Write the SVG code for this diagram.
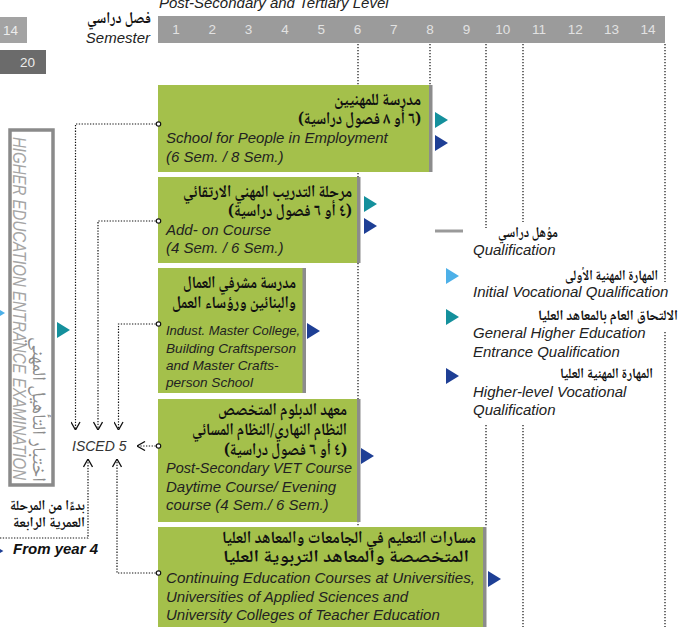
<svg xmlns="http://www.w3.org/2000/svg" xmlns:xlink="http://www.w3.org/1999/xlink" width="696" height="627" viewBox="0 0 696 627">
<style>
.en{font-family:"Liberation Sans",Arial,sans-serif;font-style:italic;font-size:15px;fill:#222}
.en14{font-size:13.6px}
.ar{font-family:"Noto Naskh Arabic","Noto Sans Arabic","DejaVu Sans",sans-serif;font-weight:bold;font-size:17px;fill:#111;direction:rtl;text-anchor:start}
.num{font-family:"Liberation Sans",Arial,sans-serif;font-size:13.5px;fill:#e2e2e2;text-anchor:middle}
.box{fill:#a4c04b}
.edge{fill:#8c8c8c}
.grid{fill:none;stroke:#222;stroke-width:1.3;stroke-dasharray:1.3 1.7}
.dot{fill:none;stroke:#111;stroke-width:1.2;stroke-dasharray:1.3 1.5}
.teal{fill:#14909c}
.dblue{fill:#1e3f95}
.lblue{fill:#4db0e8}
</style>
<defs>
<path id="tri" d="M0,-8 L13,0 L0,8 Z"/>
<marker id="chev" viewBox="0 0 10 10" refX="10" refY="5" markerWidth="10" markerHeight="10" markerUnits="userSpaceOnUse" orient="auto">
<path d="M2,0.5 L10,5 L2,9.5" fill="none" stroke="#111" stroke-width="1.3"/>
</marker>
<marker id="circ" viewBox="-4 -4 8 8" refX="0" refY="0" markerWidth="8" markerHeight="8" markerUnits="userSpaceOnUse">
<circle r="2.2" fill="#fff" stroke="#111" stroke-width="1.2"/>
</marker>
</defs>
<rect width="696" height="627" fill="#fff"/>

<!-- header -->
<g id="header">
<text class="en" x="159" y="8">Post-Secondary and Tertiary Level</text>
<rect x="0" y="17" width="27" height="26" fill="#a3a3a3"/>
<text x="3" y="35" font-family="Liberation Sans,Arial,sans-serif" font-size="13.5" fill="#ececec">14</text>
<rect x="0" y="50" width="46" height="24" fill="#6b6b6b"/>
<text x="20" y="67" font-family="Liberation Sans,Arial,sans-serif" font-size="13.5" fill="#ececec">20</text>
<text class="ar" x="151" y="23" style="font-size:16px" textLength="64" lengthAdjust="spacingAndGlyphs">فصل دراسي</text>
<text class="en" x="150" y="43" text-anchor="end">Semester</text>
<rect x="158" y="16" width="507" height="27" fill="#9b9b9b"/>
<text class="num" x="176" y="34">1</text>
<text class="num" x="212.3" y="34">2</text>
<text class="num" x="248.6" y="34">3</text>
<text class="num" x="284.9" y="34">4</text>
<text class="num" x="321.2" y="34">5</text>
<text class="num" x="357.5" y="34">6</text>
<text class="num" x="393.8" y="34">7</text>
<text class="num" x="430.1" y="34">8</text>
<text class="num" x="466.4" y="34">9</text>
<text class="num" x="502.7" y="34">10</text>
<text class="num" x="539" y="34">11</text>
<text class="num" x="575.3" y="34">12</text>
<text class="num" x="611.6" y="34">13</text>
<text class="num" x="647.9" y="34">14</text>
</g>

<!-- grid lines -->
<g id="grid">
<path class="grid" d="M358,44 V527"/>
<path class="grid" d="M430,44 V172"/>
<path class="grid" d="M486,44 V228 M486,425 V527"/>
<path class="grid" d="M523,44 V222 M523,425 V627"/>
<path class="grid" d="M665,44 V282 M665,332 V627"/>
</g>

<!-- left vertical box -->
<g id="entrance-exam">
<rect x="10" y="130" width="43" height="355" fill="#fff" stroke="#8a8a8a" stroke-width="3.5"/>
<text transform="translate(13,137) rotate(90)" font-family="Liberation Sans,Arial,sans-serif" font-style="italic" font-size="18" fill="#a5a5a5" textLength="343" lengthAdjust="spacingAndGlyphs">HIGHER EDUCATION ENTRANCE EXAMINATION</text>
<text transform="translate(33,482) rotate(90)" class="ar" style="font-weight:normal;font-size:19px;fill:#8c8c8c" textLength="145" lengthAdjust="spacingAndGlyphs">اختبار التأهيل المهني</text>
<use xlink:href="#tri" class="lblue" transform="translate(-8,313)"/>
<use xlink:href="#tri" class="teal" transform="translate(57,330)"/>
</g>

<!-- boxes -->
<g id="box1">
<rect class="box" x="158" y="85" width="271" height="87"/>
<rect class="edge" x="429" y="85" width="3.5" height="87"/>
<text class="ar" x="421" y="105" textLength="87" lengthAdjust="spacingAndGlyphs">مدرسة للمهنيين</text>
<text class="ar" x="421" y="124" textLength="123" lengthAdjust="spacingAndGlyphs">(٦ أو ٨ فصول دراسية)</text>
<text class="en" x="166" y="143">School for People in Employment</text>
<text class="en" x="166" y="162">(6 Sem. / 8 Sem.)</text>
<use xlink:href="#tri" class="teal" transform="translate(435,120)"/>
<use xlink:href="#tri" class="dblue" transform="translate(435,143)"/>
</g>

<g id="box2">
<rect class="box" x="158" y="177" width="199" height="86"/>
<rect class="edge" x="357" y="177" width="3.5" height="86"/>
<text class="ar" x="352" y="197" textLength="169" lengthAdjust="spacingAndGlyphs">مرحلة التدريب المهني الارتقائي</text>
<text class="ar" x="352" y="216" textLength="124" lengthAdjust="spacingAndGlyphs">(٤ أو ٦ فصول دراسية)</text>
<text class="en" x="166" y="235">Add- on Course</text>
<text class="en" x="166" y="253">(4 Sem. / 6 Sem.)</text>
<use xlink:href="#tri" class="teal" transform="translate(364,204)"/>
<use xlink:href="#tri" class="dblue" transform="translate(364,226)"/>
</g>

<g id="box3">
<rect class="box" x="158" y="268" width="145" height="125"/>
<rect class="edge" x="302.5" y="268" width="3.5" height="125"/>
<text class="ar" x="296" y="288" textLength="113" lengthAdjust="spacingAndGlyphs">مدرسة مشرفي العمال</text>
<text class="ar" x="296" y="308" textLength="124" lengthAdjust="spacingAndGlyphs">والبنائين ورؤساء العمل</text>
<text class="en en14" x="166" y="335" textLength="134" lengthAdjust="spacingAndGlyphs">Indust. Master College,</text>
<text class="en en14" x="166" y="353">Building Craftsperson</text>
<text class="en en14" x="166" y="370">and Master Crafts-</text>
<text class="en en14" x="166" y="387">person School</text>
<use xlink:href="#tri" class="dblue" transform="translate(307,331)"/>
</g>

<g id="box4">
<rect class="box" x="158" y="399" width="199" height="123"/>
<rect class="edge" x="357" y="399" width="3.5" height="123"/>
<text class="ar" x="347" y="415" textLength="129" lengthAdjust="spacingAndGlyphs">معهد الدبلوم المتخصص</text>
<text class="ar" x="347" y="435" textLength="155" lengthAdjust="spacingAndGlyphs">النظام النهاري/النظام المسائي</text>
<text class="ar" x="347" y="455" textLength="123" lengthAdjust="spacingAndGlyphs">(٤ أو ٦ فصول دراسية)</text>
<text class="en" x="166" y="473" textLength="186" lengthAdjust="spacingAndGlyphs">Post-Secondary VET Course</text>
<text class="en" x="166" y="492">Daytime Course/ Evening</text>
<text class="en" x="166" y="510">course (4 Sem./ 6 Sem.)</text>
<use xlink:href="#tri" class="dblue" transform="translate(361,456)"/>
</g>

<g id="box5">
<rect class="box" x="158" y="527" width="325" height="100"/>
<rect class="edge" x="483" y="527" width="3.5" height="100"/>
<text class="ar" x="476" y="543" textLength="254" lengthAdjust="spacingAndGlyphs">مسارات التعليم في الجامعات والمعاهد العليا</text>
<text class="ar" x="469" y="562" textLength="246" lengthAdjust="spacingAndGlyphs">المتخصصة والمعاهد التربوية العليا</text>
<text class="en" x="166" y="583" textLength="309" lengthAdjust="spacingAndGlyphs">Continuing Education Courses at Universities,</text>
<text class="en" x="166" y="602">Universities of Applied Sciences and</text>
<text class="en" x="166" y="620">University Colleges of Teacher Education</text>
<use xlink:href="#tri" class="dblue" transform="translate(488,579)"/>
</g>

<g id="isced5">
<text class="en" x="72" y="451" style="font-size:14px;fill:#333">ISCED 5</text>
</g>

<g id="from-year-4">
<text class="ar" x="85" y="510" style="font-size:14px" textLength="75" lengthAdjust="spacingAndGlyphs">بدءًا من المرحلة</text>
<text class="ar" x="85" y="527" style="font-size:14px" textLength="72" lengthAdjust="spacingAndGlyphs">العمرية الرابعة</text>
<text x="13" y="554" font-family="Liberation Sans,Arial,sans-serif" font-style="italic" font-weight="bold" font-size="15" fill="#111">From year 4</text>
<use xlink:href="#tri" class="dblue" transform="translate(-7,551) scale(0.8)"/>
</g>

<!-- legend -->
<g id="legend">
<line x1="435" y1="231" x2="463" y2="231" stroke="#9a9a9a" stroke-width="3"/>
<text class="ar" x="558" y="237" style="font-size:14.5px" textLength="60" lengthAdjust="spacingAndGlyphs">مؤهل دراسي</text>
<text class="en" x="473" y="255">Qualification</text>
<use xlink:href="#tri" class="lblue" transform="translate(446,276)"/>
<text class="ar" x="658" y="280" style="font-size:14.5px" textLength="93" lengthAdjust="spacingAndGlyphs">المهارة المهنية الأولى</text>
<text class="en" x="473" y="297">Initial Vocational Qualification</text>
<use xlink:href="#tri" class="teal" transform="translate(446,317)"/>
<text class="ar" x="678" y="320" style="font-size:14.5px" textLength="140" lengthAdjust="spacingAndGlyphs">الالتحاق العام بالمعاهد العليا</text>
<text class="en" x="473" y="338">General Higher Education</text>
<text class="en" x="473" y="357">Entrance Qualification</text>
<use xlink:href="#tri" class="dblue" transform="translate(446,376)"/>
<text class="ar" x="653" y="378" style="font-size:14.5px" textLength="93" lengthAdjust="spacingAndGlyphs">المهارة المهنية العليا</text>
<text class="en" x="473" y="397">Higher-level Vocational</text>
<text class="en" x="473" y="415">Qualification</text>
</g>

<!-- connectors -->
<g id="connectors">
<path class="dot" d="M158.5,124 H75.5 V430" marker-start="url(#circ)" marker-end="url(#chev)"/>
<path class="dot" d="M158.5,221 H98 V430" marker-start="url(#circ)" marker-end="url(#chev)"/>
<path class="dot" d="M158.5,324 H118.5 V430" marker-start="url(#circ)" marker-end="url(#chev)"/>
<path class="dot" d="M158.5,446 H137" marker-start="url(#circ)" marker-end="url(#chev)"/>
<path class="dot" d="M0,538 H88 V459" marker-end="url(#chev)"/>
<path class="dot" d="M158.5,573 H117 V459" marker-start="url(#circ)" marker-end="url(#chev)"/>
</g>
</svg>
